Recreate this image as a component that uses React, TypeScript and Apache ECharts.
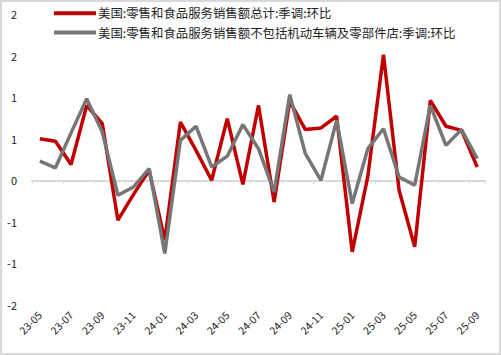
import React, { useEffect, useRef } from "react";
import * as echarts from "echarts";

const months = [
  "23-05", "23-06", "23-07", "23-08", "23-09", "23-10", "23-11", "23-12",
  "24-01", "24-02", "24-03", "24-04", "24-05", "24-06", "24-07", "24-08",
  "24-09", "24-10", "24-11", "24-12", "25-01", "25-02", "25-03", "25-04",
  "25-05", "25-06", "25-07", "25-08", "25-09",
];

const totalName = "美国:零售和食品服务销售额总计:季调:环比";
const exAutoName = "美国:零售和食品服务销售额不包括机动车辆及零部件店:季调:环比";

const totalValues = [
  0.5, 0.47, 0.19, 0.9, 0.68, -0.48, -0.17, 0.12, -0.72, 0.7, 0.36, 0.0,
  0.74, -0.05, 0.9, -0.26, 0.95, 0.61, 0.63, 0.77, -0.86, 0.05, 1.51, -0.12,
  -0.8, 0.96, 0.65, 0.6, 0.16,
];

const exAutoValues = [
  0.23, 0.15, 0.57, 0.98, 0.58, -0.18, -0.08, 0.14, -0.88, 0.48, 0.65, 0.16,
  0.29, 0.67, 0.38, -0.14, 1.03, 0.32, 0.0, 0.72, -0.28, 0.38, 0.62, 0.04,
  -0.06, 0.9, 0.42, 0.61, 0.26,
];

const yMin = -1.5;
const yMax = 2;
const yStep = 0.5;

const FONT = '"Noto Sans CJK SC", "Noto Sans", sans-serif';

export default function App() {
  const ref = useRef<HTMLDivElement>(null);

  useEffect(() => {
    if (!ref.current) return;
    const chart = echarts.init(ref.current, undefined, { renderer: "svg" });
    chart.setOption({
      animation: false,
      backgroundColor: "#ffffff",
      textStyle: { fontFamily: FONT },
      graphic: [
        {
          type: "rect",
          silent: true,
          shape: { x: 1, y: 1, width: 499, height: 353 },
          style: { fill: "none", stroke: "#d9d9d9", lineWidth: 2 },
        },
      ],
      legend: {
        orient: "vertical",
        left: 49,
        top: 2,
        itemWidth: 42,
        itemHeight: 4,
        itemGap: 7,
        icon: "rect",
        textStyle: { fontSize: 12.4, color: "#222", fontFamily: FONT, padding: [0, 0, 0, -3] },
        data: [totalName, exAutoName],
      },
      grid: { left: 32, right: 16, top: 14, bottom: 50, containLabel: false },
      xAxis: [
        {
          type: "category",
          data: months,
          boundaryGap: true,
          position: "bottom",
          axisLine: { show: false, onZero: false },
          axisTick: { show: false },
          axisLabel: {
            interval: 1,
            rotate: 45,
            fontSize: 10.5,
            color: "#222",
            margin: 8,
            fontFamily: FONT,
          },
        },
        {
          type: "category",
          data: months,
          boundaryGap: true,
          position: "bottom",
          axisLine: { show: true, onZero: true, lineStyle: { color: "#d9d9d9", width: 2 } },
          axisTick: { show: true, interval: 1, length: 4, lineStyle: { color: "#d9d9d9", width: 1 } },
          axisLabel: { show: false },
          splitLine: { show: false },
        },
      ],
      yAxis: {
        type: "value",
        min: yMin,
        max: yMax,
        interval: yStep,
        axisLine: { show: false },
        axisTick: { show: false },
        splitLine: { show: false },
        axisLabel: {
          fontSize: 11,
          color: "#222",
          margin: 15,
          fontFamily: FONT,
          formatter: (v: number) => String(Math.sign(v) * Math.round(Math.abs(v)) || 0),
        },
      },
      series: [
        {
          name: totalName,
          type: "line",
          data: totalValues,
          xAxisIndex: 0,
          showSymbol: false,
          symbol: "none",
          lineStyle: { color: "#C00000", width: 3.5 },
          itemStyle: { color: "#C00000" },
        },
        {
          name: exAutoName,
          type: "line",
          data: exAutoValues,
          xAxisIndex: 0,
          showSymbol: false,
          symbol: "none",
          lineStyle: { color: "#767676", width: 3.5 },
          itemStyle: { color: "#767676" },
        },
      ],
    });
    return () => chart.dispose();
  }, []);

  return (
    <div
      ref={ref}
      style={{ position: "fixed", left: 0, top: 0, width: 501, height: 355 }}
    />
  );
}
